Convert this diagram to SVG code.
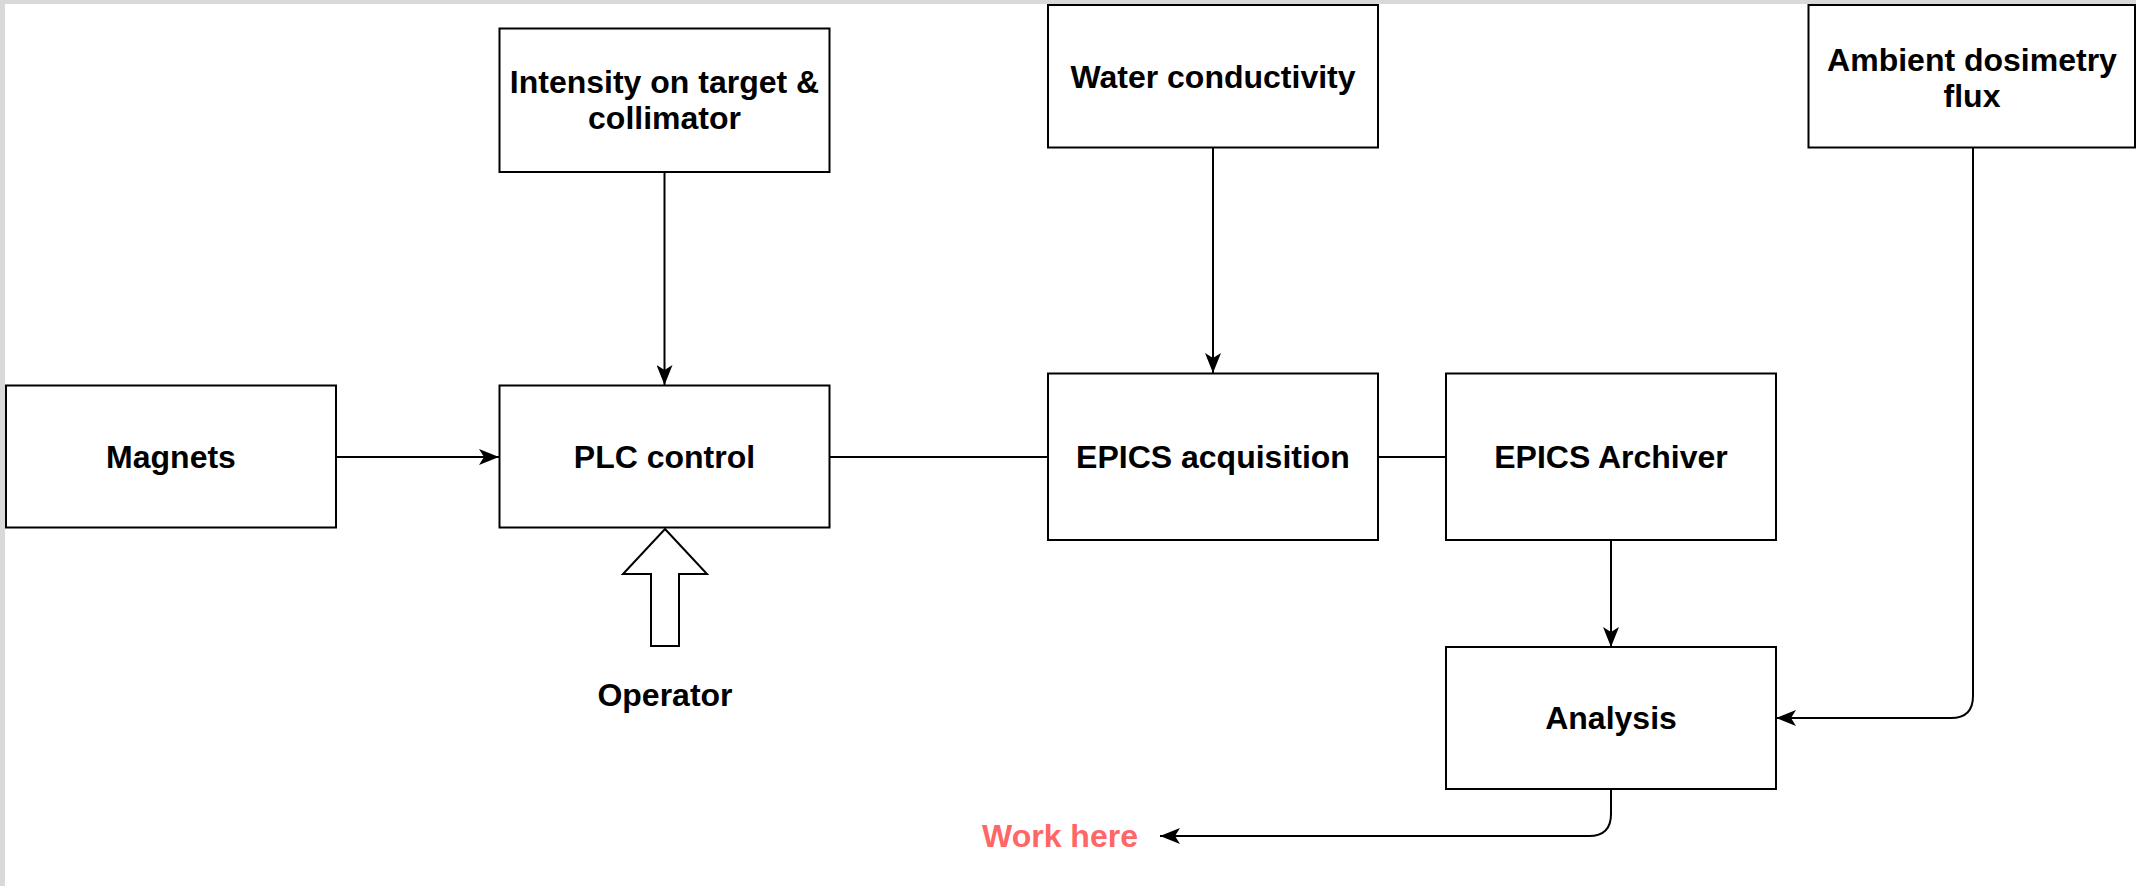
<svg xmlns="http://www.w3.org/2000/svg" width="2136" height="886" viewBox="0 0 2136 886">
<style>
.box{fill:#ffffff;stroke:#000000;stroke-width:2}
.lbl{font-family:"Liberation Sans",Arial,sans-serif;font-weight:bold;font-size:32px;fill:#000000;text-anchor:middle}
.red{fill:#ff6666}
.edge{fill:none;stroke:#000000;stroke-width:2}
</style>
<defs>
<marker id="arr" viewBox="0 0 20 16" refX="20" refY="8" markerWidth="20" markerHeight="16" markerUnits="userSpaceOnUse" orient="auto">
<path d="M0,0 L20,8 L0,16 L5,8 Z" fill="#000000"/>
</marker>
</defs>
<rect x="0" y="0" width="2136" height="886" fill="#ffffff"/>
<rect x="0" y="0" width="2136" height="4" fill="#d9d9d9"/>
<rect x="0" y="0" width="5" height="886" fill="#d9d9d9"/>

<g id="edges">
<path class="edge" d="M336,457 L499,457" marker-end="url(#arr)"/>
<path class="edge" d="M664.5,172 L664.5,385" marker-end="url(#arr)"/>
<path class="edge" d="M830,457 L1048,457"/>
<path class="edge" d="M1213,148 L1213,373" marker-end="url(#arr)"/>
<path class="edge" d="M1378,457 L1446,457"/>
<path class="edge" d="M1611,540 L1611,647" marker-end="url(#arr)"/>
<path class="edge" d="M1973,148 L1973,696 Q1973,718 1951,718 L1776,718" marker-end="url(#arr)"/>
<path class="edge" d="M1611,789 L1611,814 Q1611,836 1589,836 L1160,836" marker-end="url(#arr)"/>
</g>

<g id="intensity">
<rect class="box" x="499.5" y="28.5" width="330" height="143.5"/>
<text class="lbl" x="664.5" y="93">Intensity on target &amp;</text>
<text class="lbl" x="664.5" y="129">collimator</text>
</g>
<g id="water">
<rect class="box" x="1048" y="5" width="330" height="142.5"/>
<text class="lbl" x="1213" y="88">Water conductivity</text>
</g>
<g id="ambient">
<rect class="box" x="1808.5" y="5" width="326.5" height="142.5"/>
<text class="lbl" x="1972" y="71">Ambient dosimetry</text>
<text class="lbl" x="1972" y="107">flux</text>
</g>
<g id="magnets">
<rect class="box" x="6" y="385.5" width="330" height="142"/>
<text class="lbl" x="171" y="468">Magnets</text>
</g>
<g id="plc">
<rect class="box" x="499.5" y="385.5" width="330" height="142"/>
<text class="lbl" x="664.5" y="468">PLC control</text>
</g>
<g id="epics_acq">
<rect class="box" x="1048" y="373.5" width="330" height="166.5"/>
<text class="lbl" x="1213" y="468">EPICS acquisition</text>
</g>
<g id="epics_arch">
<rect class="box" x="1446" y="373.5" width="330" height="166.5"/>
<text class="lbl" x="1611" y="468">EPICS Archiver</text>
</g>
<g id="analysis">
<rect class="box" x="1446" y="647" width="330" height="142"/>
<text class="lbl" x="1611" y="729">Analysis</text>
</g>
<g id="operator">
<polygon class="box" points="665,529 707,574 679,574 679,646 651,646 651,574 623,574"/>
<text class="lbl" x="665" y="706">Operator</text>
</g>
<g id="workhere">
<text class="lbl red" x="1060" y="847">Work here</text>
</g>
</svg>
